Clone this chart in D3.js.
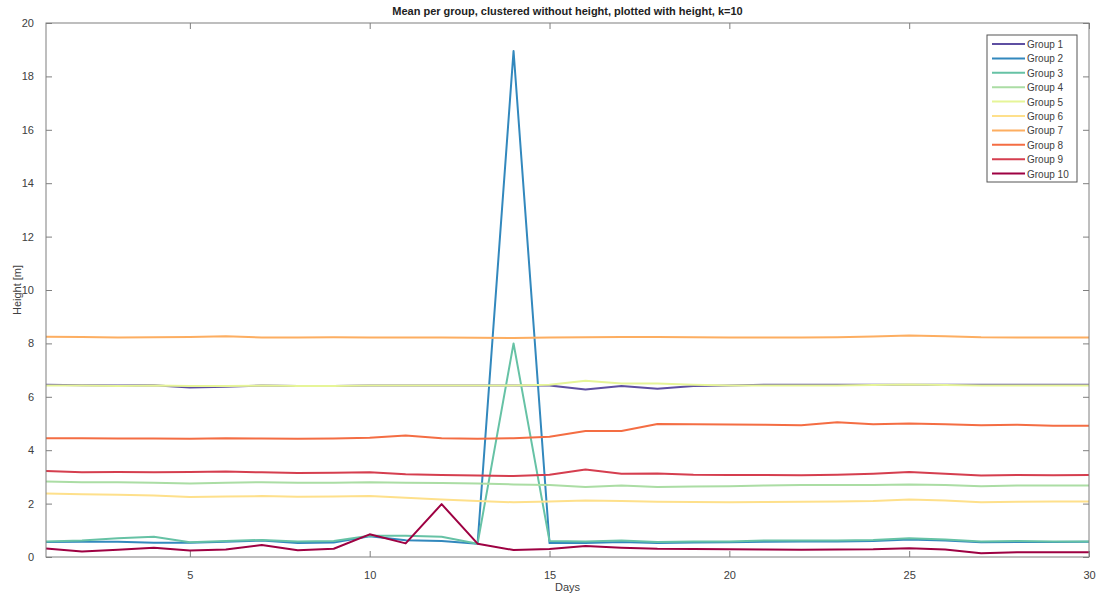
<!DOCTYPE html>
<html>
<head>
<meta charset="utf-8">
<script src="https://cdn.jsdelivr.net/npm/d3@7"></script>
<style>
  body { margin: 0; background: #fff; }
  text { font-family: "Liberation Sans", Arial, sans-serif; }
</style>
</head>
<body>
<svg id="chart" width="1105" height="598"></svg>
<script>
// Chart data
const days = d3.range(1, 31);
const groupNames = ["Group 1", "Group 2", "Group 3", "Group 4", "Group 5",
  "Group 6", "Group 7", "Group 8", "Group 9", "Group 10"];
const groupColors = ["#5e4fa2", "#3288bd", "#66c2a5", "#abdda4", "#e6f598",
  "#fee08b", "#fdae61", "#f46d43", "#d53e4f", "#9e0142"];

const group1 = [6.45, 6.43, 6.42, 6.43, 6.35, 6.38, 6.42, 6.40, 6.40, 6.42,
  6.42, 6.42, 6.42, 6.42, 6.42, 6.27, 6.40, 6.30, 6.40, 6.42,
  6.45, 6.45, 6.45, 6.45, 6.45, 6.45, 6.45, 6.45, 6.45, 6.45];
const group2 = [0.56, 0.57, 0.57, 0.53, 0.53, 0.57, 0.62, 0.52, 0.54, 0.78,
  0.63, 0.60, 0.50, 18.95, 0.52, 0.52, 0.56, 0.52, 0.54, 0.55,
  0.57, 0.58, 0.58, 0.60, 0.66, 0.62, 0.55, 0.56, 0.56, 0.57];
const group3 = [0.58, 0.62, 0.70, 0.76, 0.55, 0.60, 0.64, 0.58, 0.60, 0.80,
  0.80, 0.76, 0.50, 8.00, 0.60, 0.58, 0.62, 0.56, 0.58, 0.58,
  0.62, 0.62, 0.62, 0.64, 0.70, 0.66, 0.58, 0.60, 0.58, 0.58];
const group4 = [2.83, 2.80, 2.80, 2.78, 2.75, 2.78, 2.80, 2.78, 2.78, 2.80,
  2.78, 2.77, 2.75, 2.72, 2.70, 2.62, 2.68, 2.62, 2.64, 2.65,
  2.68, 2.70, 2.70, 2.70, 2.72, 2.70, 2.65, 2.68, 2.68, 2.68];
const group5 = [6.42, 6.42, 6.40, 6.42, 6.40, 6.40, 6.42, 6.40, 6.40, 6.42,
  6.42, 6.42, 6.42, 6.42, 6.45, 6.60, 6.50, 6.50, 6.45, 6.42,
  6.42, 6.42, 6.42, 6.44, 6.46, 6.44, 6.42, 6.42, 6.42, 6.42];
const group6 = [2.38, 2.35, 2.33, 2.30, 2.25, 2.27, 2.28, 2.26, 2.27, 2.28,
  2.22, 2.15, 2.10, 2.05, 2.08, 2.12, 2.10, 2.07, 2.06, 2.05,
  2.06, 2.07, 2.08, 2.10, 2.15, 2.12, 2.05, 2.07, 2.08, 2.08];
const group7 = [8.25, 8.24, 8.22, 8.23, 8.24, 8.27, 8.22, 8.22, 8.23, 8.22,
  8.22, 8.22, 8.21, 8.20, 8.22, 8.23, 8.24, 8.24, 8.23, 8.22,
  8.22, 8.22, 8.23, 8.26, 8.30, 8.27, 8.23, 8.22, 8.22, 8.22];
const group8 = [4.45, 4.45, 4.44, 4.44, 4.43, 4.45, 4.44, 4.43, 4.44, 4.47,
  4.55, 4.45, 4.43, 4.45, 4.50, 4.72, 4.72, 4.98, 4.97, 4.96,
  4.95, 4.93, 5.05, 4.97, 5.00, 4.97, 4.93, 4.95, 4.92, 4.92];
const group9 = [3.22, 3.17, 3.18, 3.17, 3.18, 3.20, 3.17, 3.15, 3.16, 3.17,
  3.10, 3.07, 3.05, 3.03, 3.08, 3.28, 3.12, 3.13, 3.08, 3.07,
  3.07, 3.06, 3.08, 3.12, 3.18, 3.12, 3.05, 3.07, 3.06, 3.07];
const group10 = [0.32, 0.21, 0.27, 0.35, 0.24, 0.28, 0.45, 0.25, 0.31, 0.85,
  0.51, 1.98, 0.50, 0.26, 0.30, 0.41, 0.35, 0.31, 0.30, 0.29,
  0.28, 0.27, 0.28, 0.29, 0.33, 0.28, 0.14, 0.18, 0.18, 0.18];
const groupValues = [group1, group2, group3, group4, group5,
  group6, group7, group8, group9, group10];

const xTicks = [5, 10, 15, 20, 25, 30];
const yTicks = d3.range(0, 21, 2);

// Plot area
const margin = { left: 46, right: 16, top: 23, bottom: 41 };
const width = 1105, height = 598;
const svg = d3.select("#chart");

const x = d3.scaleLinear().domain([1, 30]).range([margin.left, width - margin.right]);
const y = d3.scaleLinear().domain([0, 20]).range([height - margin.bottom, margin.top]);

const axisColor = "#7f7f7f";
const labelColor = "#404040";

// Axes with inward ticks (MATLAB style)
function styleAxis(g) {
  g.select(".domain").remove();
  g.selectAll(".tick line").attr("stroke", axisColor);
  g.selectAll(".tick text").attr("fill", labelColor).attr("font-size", 11);
}

svg.append("g")
  .attr("transform", `translate(0,${y(0)})`)
  .call(d3.axisBottom(x).tickValues(xTicks).tickSize(-6).tickPadding(14))
  .call(styleAxis);
svg.append("g")
  .attr("transform", `translate(0,${y(20)})`)
  .call(d3.axisTop(x).tickValues(xTicks).tickSize(-6).tickFormat(""))
  .call(styleAxis);
svg.append("g")
  .attr("transform", `translate(${x(1)},0)`)
  .call(d3.axisLeft(y).tickValues(yTicks).tickSize(-6).tickPadding(12))
  .call(styleAxis);
svg.append("g")
  .attr("transform", `translate(${x(30)},0)`)
  .call(d3.axisRight(y).tickValues(yTicks).tickSize(-6).tickFormat(""))
  .call(styleAxis);

// Lines
const line = d3.line().x((d, i) => x(days[i])).y(d => y(d));
groupValues.forEach((vals, i) => {
  svg.append("path")
    .datum(vals)
    .attr("fill", "none")
    .attr("stroke", groupColors[i])
    .attr("stroke-width", 2)
    .attr("stroke-linejoin", "round")
    .attr("d", line);
});

// Box
svg.append("rect")
  .attr("x", x(1)).attr("y", y(20))
  .attr("width", x(30) - x(1)).attr("height", y(0) - y(20))
  .attr("fill", "none").attr("stroke", axisColor).attr("stroke-width", 1);

// Title and axis labels
svg.append("text")
  .attr("x", (x(1) + x(30)) / 2).attr("y", 15)
  .attr("text-anchor", "middle").attr("font-size", 11).attr("font-weight", "bold")
  .attr("fill", "#222")
  .text("Mean per group, clustered without height, plotted with height, k=10");
svg.append("text")
  .attr("x", (x(1) + x(30)) / 2).attr("y", 591)
  .attr("text-anchor", "middle").attr("font-size", 11).attr("fill", labelColor)
  .text("Days");
svg.append("text")
  .attr("transform", `translate(21,${(y(0) + y(20)) / 2}) rotate(-90)`)
  .attr("text-anchor", "middle").attr("font-size", 11).attr("fill", labelColor)
  .text("Height [m]");

// Legend
const legend = svg.append("g").attr("transform", "translate(987,35)");
legend.append("rect")
  .attr("width", 90).attr("height", 147)
  .attr("fill", "#fff").attr("stroke", "#555").attr("stroke-width", 1);
groupNames.forEach((name, i) => {
  const ly = 9 + i * 14.4;
  legend.append("line")
    .attr("x1", 5).attr("x2", 38).attr("y1", ly).attr("y2", ly)
    .attr("stroke", groupColors[i]).attr("stroke-width", 2);
  legend.append("text")
    .attr("x", 40).attr("y", ly + 4)
    .attr("font-size", 10).attr("fill", labelColor)
    .text(name);
});
</script>
</body>
</html>
